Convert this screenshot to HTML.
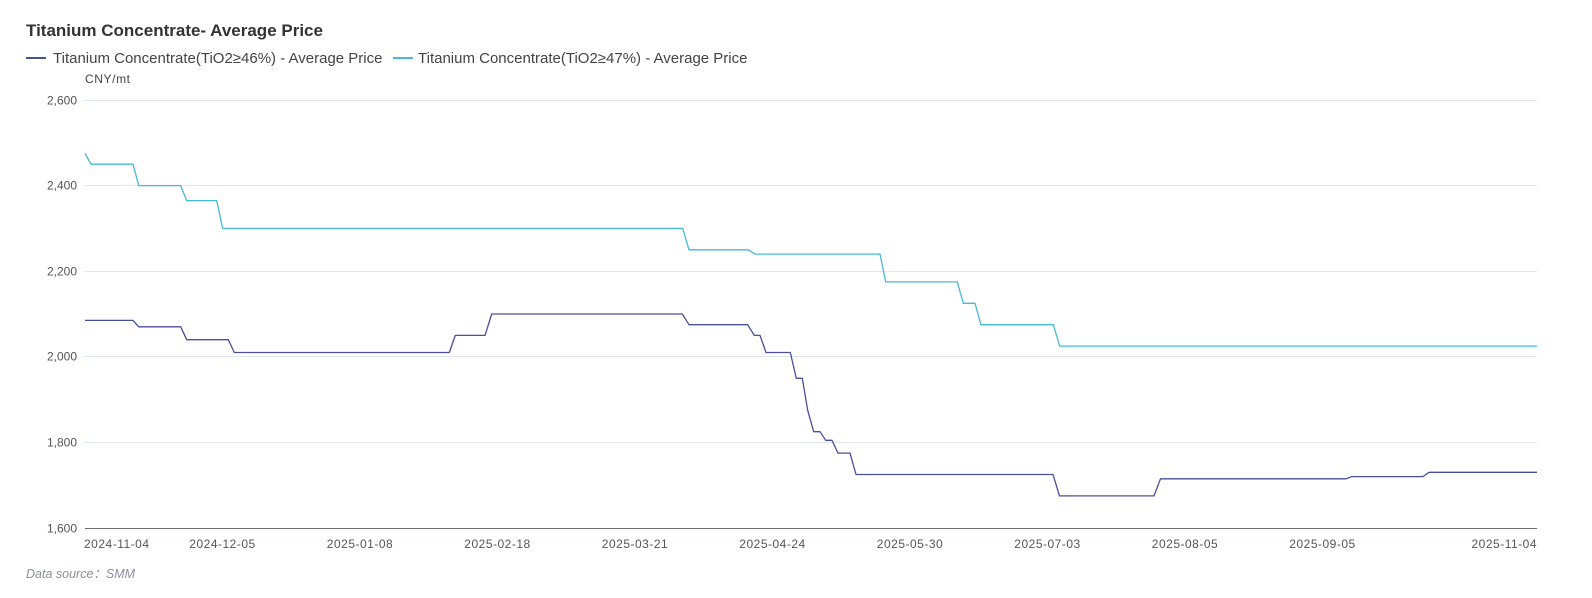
<!DOCTYPE html>
<html>
<head>
<meta charset="utf-8">
<style>
  html,body{margin:0;padding:0;background:#fff;}
  body{width:1592px;height:598px;overflow:hidden;}
  svg{display:block;}
  text{font-family:"Liberation Sans","Noto Sans CJK SC",sans-serif;}
</style>
</head>
<body>
<svg width="1592" height="598" viewBox="0 0 1592 598" xmlns="http://www.w3.org/2000/svg">
  <rect width="1592" height="598" fill="#fff"/>
  <!-- Title -->
  <text x="26" y="36" font-size="17" font-weight="bold" fill="#333">Titanium Concentrate- Average Price</text>

  <!-- Legend -->
  <line x1="26" y1="58" x2="46" y2="58" stroke="#4a4f9b" stroke-width="2"/>
  <text x="53" y="63" font-size="15" fill="#444">Titanium Concentrate(TiO2≥46%) - Average Price</text>
  <line x1="393" y1="58" x2="413" y2="58" stroke="#46b9d5" stroke-width="2"/>
  <text x="418" y="63" font-size="15" fill="#444">Titanium Concentrate(TiO2≥47%) - Average Price</text>

  <!-- Unit -->
  <text x="85" y="83" font-size="12" fill="#444" letter-spacing="0.6">CNY/mt</text>

  <!-- Grid lines -->
  <g stroke="#E0E6F1" stroke-width="1">
    <line x1="85" y1="100.5" x2="1537" y2="100.5"/>
    <line x1="85" y1="185.5" x2="1537" y2="185.5"/>
    <line x1="85" y1="271.5" x2="1537" y2="271.5"/>
    <line x1="85" y1="356.5" x2="1537" y2="356.5"/>
    <line x1="85" y1="442.5" x2="1537" y2="442.5"/>
  </g>
  <!-- X axis -->
  <line x1="85" y1="528.5" x2="1537" y2="528.5" stroke="#6E7079" stroke-width="1"/>

  <!-- Y labels -->
  <g font-size="12" fill="#555" text-anchor="end">
    <text x="77" y="104.5">2,600</text>
    <text x="77" y="189.5">2,400</text>
    <text x="77" y="275.5">2,200</text>
    <text x="77" y="360.5">2,000</text>
    <text x="77" y="446.5">1,800</text>
    <text x="77" y="532.5">1,600</text>
  </g>

  <!-- X labels -->
  <g font-size="12" fill="#555" letter-spacing="0.5">
    <text x="84" y="548">2024-11-04</text>
    <text x="222.5" y="548" text-anchor="middle">2024-12-05</text>
    <text x="360" y="548" text-anchor="middle">2025-01-08</text>
    <text x="497.5" y="548" text-anchor="middle">2025-02-18</text>
    <text x="635" y="548" text-anchor="middle">2025-03-21</text>
    <text x="772.5" y="548" text-anchor="middle">2025-04-24</text>
    <text x="910" y="548" text-anchor="middle">2025-05-30</text>
    <text x="1047.5" y="548" text-anchor="middle">2025-07-03</text>
    <text x="1185" y="548" text-anchor="middle">2025-08-05</text>
    <text x="1322.5" y="548" text-anchor="middle">2025-09-05</text>
    <text x="1537" y="548" text-anchor="end">2025-11-04</text>
  </g>

  <!-- Series: TiO2>=47% (cyan) -->
  <polyline fill="none" stroke="#46b9d5" stroke-width="1.3" stroke-linejoin="round"
    points="85,153.5 91,164.2 133,164.2 138.7,185.6 180.7,185.6 186.7,200.6 216.7,200.6 222.7,228.4 682.7,228.4 689,249.8 748.3,249.8 755,254.1 880,254.1 885.7,281.9 957.3,281.9 963.3,303.3 975,303.3 981,324.7 1053.3,324.7 1059.7,346.1 1537,346.1"/>

  <!-- Series: TiO2>=46% (dark) -->
  <polyline fill="none" stroke="#4a4f9b" stroke-width="1.3" stroke-linejoin="round"
    points="85,320.4 133,320.4 138.7,326.8 180.7,326.8 186.7,339.7 228.3,339.7 234.3,352.5 449.3,352.5 455.3,335.4 485,335.4 491.7,314 682.3,314 689,324.7 747.7,324.7 754.3,335.4 760,335.4 766,352.5 790.3,352.5 796.3,378.3 802.3,378.3 807.7,410.3 813.7,431.7 820,431.7 825.7,440.3 832,440.3 838,453.1 850,453.1 856,474.5 1053,474.5 1059.5,495.9 1154,495.9 1160.5,478.8 1346,478.8 1351.7,476.6 1423,476.6 1429,472.3 1537,472.3"/>

  <!-- Data source -->
  <text x="26" y="578" font-size="12.5" font-style="italic" fill="#8a8f99">Data source：SMM</text>
</svg>
</body>
</html>
